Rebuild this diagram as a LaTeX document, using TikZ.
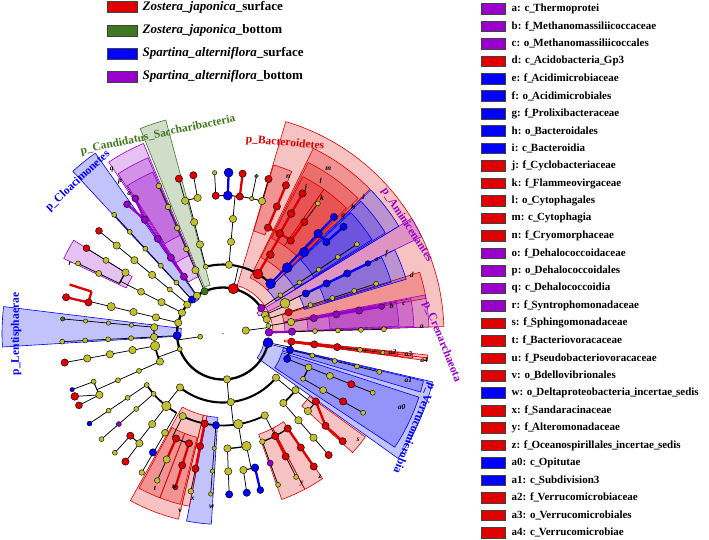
\documentclass[tikz,border=0pt]{standalone}
\usepackage{fontspec}
\setmainfont{Liberation Serif}
\definecolor{cR}{RGB}{222,0,0}
\definecolor{cG}{RGB}{62,120,30}
\definecolor{cB}{RGB}{0,0,245}
\definecolor{cP}{RGB}{150,0,200}
\definecolor{cY}{RGB}{192,192,48}
\definecolor{lR}{RGB}{225,0,0}
\definecolor{lG}{RGB}{64,120,32}
\definecolor{lB}{RGB}{0,0,255}
\definecolor{lP}{RGB}{153,0,204}
\newcommand\nus{\makebox[0.36em][l]{\_}}
\newcommand\cSp[3]{\draw[lnk] (#1:#2pt) -- (#1:#3pt);}
\newcommand\cSc[4]{\draw[clnk,#4] (#1:#2pt) -- (#1:#3pt);}
\newcommand\cAr[4]{\draw[line width=#4pt] (#1:#3pt) arc[start angle=#1,end angle=#2,radius=#3pt];}
\newcommand\cAc[4]{\draw[clnk,#4] (#1:#3pt) arc[start angle=#1,end angle=#2,radius=#3pt];}
\newcommand\cNd[4]{\filldraw[ndb,fill=#4] (#1:#2pt) circle[radius=1.08*#3pt];}
\newcommand\cWg[5]{\filldraw[fill=#5,fill opacity=0.24,draw=#5,line width=0.6pt] (#1:#3pt) arc[start angle=#1,end angle=#2,radius=#3pt] -- (#2:#4pt) arc[start angle=#2,end angle=#1,radius=#4pt] -- cycle;}
\begin{document}
\begin{tikzpicture}[x=1pt,y=1pt,
  lnk/.style={line width=0.75pt,black},
  clnk/.style={line width=2.3pt},
  ndb/.style={draw=black,line width=0.4pt},
  lt/.style={font=\fontsize{7.5}{7.5}\selectfont\bfseries\itshape,inner sep=0pt},
  plab/.style={font=\fontsize{11.5}{11.5}\selectfont\bfseries,inner sep=0pt},
  lgtxt/.style={anchor=west,inner sep=0pt,font=\fontsize{13}{13}\selectfont\bfseries},
  rgtxt/.style={anchor=west,inner sep=0pt,font=\fontsize{11}{11}\selectfont\bfseries},
  ]
\useasboundingbox (0,-539) rectangle (709,0);
\fill[white] (0,-539) rectangle (709,0);
\begin{scope}[shift={(223,-333.5)}]
% ---------- phylum wedges
\cWg{1.8}{73.5}{50}{221}{cR}
\cWg{26}{31.4}{40}{221}{cP}
\cWg{105}{112}{50}{221}{cG}
\cWg{125.3}{132.8}{42}{221}{cB}
\cWg{173}{183.5}{42}{221}{cB}
\cWg{-35.5}{-13}{42}{215}{cB}
% ---------- class wedges
\cWg{44.5}{64}{62}{206}{cR}
\cWg{31.4}{44.2}{62}{206}{cB}
\cWg{9.8}{17.3}{62}{206}{cR}
\cWg{112.7}{123.7}{62}{206}{cP}
\cWg{-33.5}{-18}{62}{206}{cB}
\cWg{-16.5}{-13.3}{62}{206}{cB}
\cWg{-7.6}{-6}{62}{206}{cR}
\cWg{1.8}{10.8}{62}{206}{cP}
% ---------- order wedges
\cWg{45}{63.5}{85}{191}{cR}
\cWg{31.8}{43.8}{85}{191}{cB}
\cWg{16.5}{26}{85}{191}{cB}
\cWg{2.1}{10.5}{85}{191}{cP}
\cWg{113.1}{123.3}{85}{191}{cP}
\cWg{241}{256.5}{84}{191}{cR}
\cWg{259}{266.5}{84}{191}{cB}
\cWg{-7.4}{-6.2}{85}{191}{cR}
% ---------- family wedges
\cWg{67}{73.3}{107}{176}{cR}
\cWg{55}{63}{107}{176}{cR}
\cWg{45.5}{55}{107}{176}{cR}
\cWg{32.2}{43.4}{107}{176}{cB}
\cWg{17}{25.6}{107}{176}{cB}
\cWg{2.4}{10.2}{107}{176}{cP}
\cWg{113.5}{122.9}{107}{176}{cP}
\cWg{148}{154.8}{107}{176}{cP}
\cWg{-42.6}{-36}{107}{176}{cR}
\cWg{241.5}{249}{107}{176}{cR}
\cWg{249}{256}{107}{176}{cR}
\cWg{256.5}{259}{84}{176}{cR}
\cWg{-70.5}{-62.3}{107}{176}{cR}
\cWg{-62.3}{-55.5}{107}{176}{cR}
\cWg{-7.2}{-6.4}{107}{176}{cR}
% ---------- backbone
\fill[gray] (0,0) circle[radius=0.8pt];
\cSp{7.5}{23}{46}
\cSp{188}{23}{46}
\cAr{33.7}{347}{46}{2.3}
\cAr{1.5}{24}{46}{0.8}
% Bacteroidetes
\cSp{77}{46}{69}
\cAr{46.3}{104.5}{69}{2.1}
\cSp{104.5}{69}{138}
\cAr{100.6}{105.9}{138}{0.9}
\cSp{105.9}{138}{161}
\cSp{100.6}{138}{161}
\cSp{85}{69}{138}
\cAr{73.6}{93}{138}{0.9}
\cSp{93}{138}{161}
\cSc{88}{138}{161}{cB}
\cSc{83}{138}{161}{cR}
\cSp{78}{138}{161}
\cSp{73.6}{138}{161}
\cSc{59.6}{69}{115}{cR}
\cAc{53.9}{67}{115}{cR}
\cSc{67}{115}{161}{cR}
\cSc{60.4}{115}{161}{cR}
\cSc{53.9}{115}{138}{cR}
\cSp{53.9}{138}{161}
\cSc{46.3}{69}{138}{cB}
\cAc{41.5}{46.4}{138}{cB}
\cSc{46.4}{138}{161}{cB}
\cSc{41.5}{138}{161}{cB}
% right phyla
\cSp{33.7}{46}{161}
\cSp{24}{46}{69}
\cAr{24}{26}{69}{1}
\cSp{26}{69}{92}
\cSc{25.8}{92}{161}{cB}
\cSp{18}{46}{161}
\cSp{9.6}{46}{92}
\cSc{9.6}{92}{161}{cP}
\cSc{1.5}{46}{69}{cP}
\cSp{1.5}{69}{161}
% Verrucomicrobia
\cSp{-11.5}{46}{69}
\cAr{-21.6}{-6.8}{69}{1.6}
\cSp{-13.8}{69}{161}
\cSp{-21.6}{69}{161}
\cAr{-29.5}{-21.6}{92}{1.3}
\cSp{-29.5}{92}{161}
\cSc{-6.8}{69}{115}{cR}
\cSp{-6.8}{115}{161}
\draw[cR,line width=0.7pt] (-6.8:161pt) -- (-6.8:206pt);
% Proteobacteria
\cSp{-85}{46}{69}
\cAr{231.4}{320.2}{69}{2.1}
\cSp{231.4}{69}{92}
\cAr{214}{239.7}{92}{1.8}
\cSp{214}{92}{161}
\cSp{221}{92}{161}
\cSp{232}{92}{138}
\cAr{227.8}{232.7}{138}{0.9}
\cSp{227.8}{138}{161}
\cSp{232.7}{138}{161}
\cSp{239.7}{92}{161}
\cSp{276.5}{69}{92}
\cAr{244}{297}{92}{1.8}
\cSp{244}{92}{115}
\cAr{244}{252.8}{115}{1.2}
\cSc{245.9}{115}{138}{cR}
\cSp{245.9}{138}{161}
\cSc{252.8}{115}{161}{cR}
\cSc{258.5}{92}{138}{cR}
\cSp{258.5}{138}{161}
\cSp{265.6}{92}{161}
\cSp{279.6}{92}{115}
\cAr{272.2}{281.8}{115}{1.3}
\cSp{272.2}{115}{161}
\cSp{281.8}{115}{138}
\cAr{278.5}{283.4}{138}{1.1}
\cSp{278.5}{138}{161}
\cSc{283.4}{138}{161}{cB}
\cSp{297}{92}{115}
\cAr{290}{304.3}{115}{1.3}
\cSp{290}{115}{161}
\cSc{297}{115}{138}{cR}
\cSp{297}{138}{161}
\cSc{304.3}{115}{161}{cR}
\cSp{320.2}{69}{92}
\cAr{311}{322}{92}{1.8}
\cSp{311}{92}{161}
\cSp{322}{92}{115}
\cAr{317.6}{323.8}{115}{1.1}
\draw[clnk,cR] (323.8:115pt) -- (318:138pt) -- (318:161pt);
% left phyla
\cSp{200}{46}{69}
\cAr{190.4}{204}{69}{1.8}
\cSp{190.4}{69}{161}
\cSp{204}{69}{138}
\cAr{200.4}{206.4}{138}{1}
\cSp{200.4}{138}{161}
\draw[lnk] (203:161pt) -- (206.4:138pt) -- (206.5:161pt);
\cSp{182.7}{46}{69}
\cAr{174.8}{182.9}{69}{1.3}
\cSp{174.8}{69}{161}
\cSp{182.9}{69}{161}
\cSp{166.5}{46}{138}
\cSc{167}{138}{161}{cR}
\cAc{162.3}{167}{138}{cR}
\cSc{162.3}{138}{161}{cR}
\cSp{153}{46}{115}
\cAr{148}{154.2}{115}{1.3}
\cSp{148}{115}{161}
\cSp{154.2}{115}{161}
\cSp{140.4}{46}{161}
\cSp{132.5}{46}{161}
\cSp{124.5}{46}{69}
\cSc{124.5}{69}{138}{cP}
\draw[clnk,cP] (126.6:161pt) -- (124.5:138pt) -- (123:161pt);
\cSp{113.5}{46}{161}
% ---------- nodes
\cNd{7.5}{23}{3.4}{cY}
\cNd{188}{23}{2.3}{cY}
\cNd{33.7}{46}{3.4}{cP}
\cNd{24}{46}{3.4}{cY}
\cNd{18}{46}{3.4}{cY}
\cNd{9.6}{46}{2.3}{cY}
\cNd{1.5}{46}{3.6}{cP}
\cNd{-11.5}{46}{4.6}{cB}
\cNd{-85}{46}{3.4}{cY}
\cNd{200}{46}{2.3}{cY}
\cNd{182.7}{46}{3.8}{cB}
\cNd{166.5}{46}{3.4}{cY}
\cNd{153}{46}{3.4}{cY}
\cNd{141}{46}{3.4}{cY}
\cNd{132.5}{46}{3.4}{cB}
\cNd{124.5}{46}{3.4}{cY}
\cNd{113.6}{46}{3.4}{cG}
\cNd{77}{46}{4.8}{cR}
% right
\foreach \r in {69,92,115,138,161}{\cNd{33.7}{\r}{2.3}{cY}}
\cNd{26}{69}{4.6}{cY}
\foreach \r in {92,115,138}{\cNd{25.8}{\r}{3.4}{cB}}
\cNd{25.8}{161}{2.6}{cB}
\cNd{18}{69}{3.4}{cR}
\foreach \r in {92,115,138,161}{\cNd{18}{\r}{2.3}{cY}}
\cNd{9.6}{69}{3.4}{cY}
\foreach \r in {92,115,138}{\cNd{9.6}{\r}{3.4}{cP}}
\cNd{9.6}{161}{2.6}{cP}
\cNd{1.5}{69}{3.4}{cP}
\foreach \r in {92,115,138,161}{\cNd{1.5}{\r}{2.3}{cY}}
% Verrucomicrobia
\foreach \r in {69,92,115}{\cNd{-6.8}{\r}{3.4}{cR}}
\cNd{-6.8}{138}{2.3}{cY}
\cNd{-6.8}{161}{2}{cY}
\cNd{-13.8}{69}{3.4}{cB}
\foreach \r in {92,115,138,161}{\cNd{-13.8}{\r}{2.3}{cY}}
\cNd{-21.6}{69}{3.4}{cB}
\cNd{-21.6}{92}{3.2}{cY}
\cNd{-21.6}{115}{3.2}{cY}
\cNd{-21.6}{138}{3.4}{cR}
\cNd{-21.6}{161}{2.3}{cY}
\cNd{-29.5}{92}{2.3}{cY}
\cNd{-29.5}{115}{3.2}{cY}
\cNd{-29.5}{138}{3.4}{cR}
\cNd{-29.5}{161}{2.3}{cY}
% Proteobacteria
\cNd{231.4}{69}{3.4}{cY}
\cNd{276.5}{69}{3.4}{cY}
\cNd{320.2}{69}{3.4}{cY}
\cNd{214}{92}{2.3}{cY}
\cNd{221}{92}{2.3}{cY}
\cNd{232}{92}{4.4}{cY}
\cNd{214}{115}{2.3}{cY}
\cNd{214}{138}{2.3}{cY}
\cNd{214}{161}{2.3}{cB}
\cNd{221}{115}{2.3}{cY}
\cNd{221}{138}{2.3}{cP}
\cNd{221}{161}{2.3}{cY}
\cNd{232}{115}{3.4}{cY}
\cNd{227.8}{138}{3.4}{cR}
\cNd{232.7}{138}{3.4}{cY}
\cNd{227.8}{161}{2.3}{cY}
\cNd{232.7}{161}{3.4}{cR}
\cNd{239.7}{115}{3.2}{cY}
\cNd{239.5}{138}{3.4}{cB}
\cNd{239.7}{161}{2.6}{cY}
\cNd{244}{92}{3.4}{cY}
\cNd{258.5}{92}{3.4}{cR}
\cNd{265.6}{92}{3.4}{cB}
\cNd{279.6}{92}{4.4}{cY}
\cNd{297}{92}{3.4}{cY}
\cNd{245.9}{115}{3.4}{cR}
\cNd{252.8}{115}{3.4}{cR}
\cNd{245.9}{138}{3.4}{cY}
\cNd{245.9}{161}{2.6}{cY}
\cNd{252.8}{138}{3.4}{cR}
\cNd{252.8}{161}{2.3}{cR}
\cNd{258.5}{115}{3.4}{cR}
\cNd{258.5}{138}{3.4}{cR}
\cNd{258.5}{161}{2.6}{cY}
\foreach \r in {115,138,161}{\cNd{265.6}{\r}{2}{cY}}
\cNd{272.2}{115}{3.4}{cY}
\cNd{281.8}{115}{4.4}{cY}
\cNd{272.2}{138}{3.4}{cY}
\cNd{272.2}{161}{3.4}{cB}
\cNd{278.5}{138}{3.4}{cY}
\cNd{278.5}{161}{3.4}{cB}
\cNd{283.4}{138}{3.6}{cB}
\cNd{283.4}{161}{3.2}{cB}
\cNd{290}{115}{2.6}{cY}
\cNd{290}{138}{2.8}{cP}
\cNd{290}{161}{2.3}{cY}
\cNd{297}{115}{3.4}{cR}
\cNd{297}{138}{3.4}{cR}
\cNd{297}{161}{2.3}{cY}
\cNd{304.3}{115}{3.4}{cR}
\cNd{304.3}{138}{3.4}{cR}
\cNd{304.3}{161}{3.4}{cR}
\cNd{311}{92}{3.4}{cY}
\cNd{322}{92}{3.4}{cY}
\cNd{311}{115}{3.4}{cY}
\cNd{311}{138}{3.4}{cY}
\cNd{311}{161}{3.4}{cR}
\cNd{317.6}{115}{3.4}{cY}
\cNd{323.8}{115}{3.4}{cR}
\cNd{318}{138}{3.4}{cR}
\cNd{318}{161}{3.4}{cR}
% left phyla
\cNd{190.4}{69}{4.4}{cY}
\foreach \r in {92,115,138}{\cNd{190.4}{\r}{3.4}{cY}}
\cNd{190.4}{161}{3.4}{cR}
\cNd{204}{69}{3.4}{cY}
\cNd{204}{92}{2.3}{cY}
\cNd{204}{115}{2.3}{cY}
\cNd{200.4}{138}{2.3}{cY}
\cNd{200.4}{161}{2}{cB}
\cNd{206.4}{138}{3.4}{cY}
\cNd{203}{161}{3.6}{cR}
\cNd{206.5}{161}{3.2}{cR}
\cNd{174.8}{69}{3.4}{cY}
\foreach \r in {92,115,138}{\cNd{174.8}{\r}{2}{cY}}
\cNd{174.8}{161}{2}{cG}
\cNd{182.9}{69}{3.4}{cY}
\foreach \r in {92,115,138,161}{\cNd{182.9}{\r}{2.3}{cY}}
\cNd{166.5}{69}{3.4}{cY}
\cNd{166.5}{92}{3.4}{cY}
\cNd{166.5}{115}{3.8}{cY}
\cNd{167}{138}{3.4}{cR}
\cNd{167}{161}{3.4}{cR}
\cNd{153}{69}{3.4}{cY}
\cNd{153}{92}{3.2}{cY}
\cNd{148}{115}{3.4}{cY}
\cNd{148}{138}{2.8}{cY}
\cNd{148}{161}{3.2}{cR}
\cNd{154.2}{138}{2.8}{cY}
\cNd{154.2}{161}{2.3}{cY}
\cNd{140.4}{69}{2.3}{cY}
\foreach \r in {92,115,138}{\cNd{140.4}{\r}{3.4}{cY}}
\cNd{140.4}{161}{3.2}{cR}
\foreach \r in {69,92,115,138,161}{\cNd{132.5}{\r}{2.3}{cY}}
\foreach \r in {69,92,115}{\cNd{124.5}{\r}{3.4}{cP}}
\cNd{124.5}{138}{3.4}{cP}
\cNd{126.6}{161}{3.2}{cP}
\cNd{123}{161}{3.2}{cP}
\cNd{113.5}{69}{3.4}{cY}
\foreach \r in {92,115,138,161}{\cNd{113.5}{\r}{2.6}{cY}}
% Bacteroidetes
\cNd{104.5}{69}{2.3}{cY}
\cNd{104.5}{92}{3.4}{cY}
\cNd{104.5}{115}{3.4}{cY}
\cNd{105.9}{138}{3.4}{cY}
\cNd{105.9}{161}{3.4}{cR}
\cNd{100.6}{138}{3.4}{cY}
\cNd{100.6}{161}{3.4}{cR}
\cNd{85}{69}{3.4}{cY}
\cNd{85}{92}{3.4}{cY}
\cNd{85}{115}{3.4}{cY}
\cNd{93}{138}{3.4}{cR}
\cNd{93}{161}{2}{cY}
\cNd{88}{138}{4.2}{cB}
\cNd{88}{161}{4.2}{cB}
\cNd{83}{138}{3.4}{cR}
\cNd{83}{161}{3.4}{cR}
\cNd{78}{138}{2}{cY}
\cNd{78}{161}{1.8}{cG}
\cNd{73.6}{138}{3.4}{cY}
\cNd{73.6}{161}{3.4}{cR}
\cNd{59.6}{69}{4.6}{cR}
\cNd{59}{92}{3.6}{cR}
\cNd{67}{115}{3.4}{cR}
\cNd{60.4}{115}{3.6}{cR}
\cNd{53.9}{115}{3.4}{cR}
\cNd{67}{138}{3.4}{cR}
\cNd{67}{161}{3.4}{cR}
\cNd{60.4}{138}{3.6}{cR}
\cNd{60.4}{161}{3.4}{cR}
\cNd{53.9}{138}{3.4}{cR}
\cNd{53.9}{161}{2.3}{cY}
\cNd{46.3}{69}{4.6}{cB}
\cNd{45.7}{92}{4.6}{cB}
\cNd{45.1}{115}{4.4}{cB}
\cNd{46.4}{138}{4.0}{cB}
\cNd{46.4}{161}{3.4}{cB}
\cNd{41.5}{138}{3.4}{cB}
\cNd{41.5}{161}{3.4}{cB}
\end{scope}
% ---------- clade letters
\foreach \x/\y/\t [count=\i] in {111.7/170/q,120/181.7/p,129.3/193.3/o,70/263.3/r,288.3/176.7/n,
  328.3/168.3/m,320.7/181/l,306/188/j,322/198/k,363.3/196.7/i,353.3/206.7/h,343.3/216.7/g,
  386.7/253.3/f,376.7/260/e,411.7/275/d,404/303.3/c,391.7/306/b,421.7/326.7/a,
  392.7/351.7/a2,408.3/354.3/a3,424/360/a4,408.3/380/a1,401.7/406.7/a0,
  301.7/483.3/y,320/476.7/z,211.7/506.7/w,192.7/498.3/x,180/510.7/v,155/488.3/t,174.3/487.3/u,358/440/s}
  {\node[lt] (let\i) at (\x,-\y) {\t};}
% ---------- phylum labels
\node[plab,text=lG,rotate=12] (pSac) at (158,-135) {p\_Candidatus\_Saccharibacteria};
\node[plab,text=lB,rotate=43] (pClo) at (78,-181) {p\_Cloacimonetes};
\node[plab,text=lR,rotate=-5] (pBac) at (285,-143) {p\_Bacteroidetes};
\node[plab,text=lP,rotate=-57] (pAmi) at (407,-225) {p\_Aminicenantes};
\node[plab,text=lP,rotate=-68] (pCre) at (442,-342) {p\_Crenarchaeota};
\node[plab,text=lB,rotate=-112] (pVer) at (414,-428) {p\_Verrucomicrobia};
\node[plab,text=lB,rotate=90] (pLen) at (16,-334) {p\_Lentisphaerae};
% ---------- left legend
\foreach \y/\c/\t [count=\i] in {7.2/lR/{\textit{Zostera\_japonica}\_surface},
  30.7/lG/{\textit{Zostera\_japonica}\_bottom},
  53.3/lB/{\textit{Spartina\_alterniflora}\_surface},
  76.5/lP/{\textit{Spartina\_alterniflora}\_bottom}}
  {\draw[black!75,line width=0.6pt,fill=\c] (107,-\y+5.5) rectangle (137,-\y-5.5);
   \node[lgtxt] (lg\i) at (142.5,-\y) {\t};}
% ---------- right legend
\foreach \t/\c [count=\i from 0] in {{a: c\nus Thermoprotei}/lP,{b: f\nus Methanomassiliicoccaceae}/lP,
  {c: o\nus Methanomassiliicoccales}/lP,{d: c\nus Acidobacteria\nus Gp3}/lR,{e: f\nus Acidimicrobiaceae}/lB,
  {f: o\nus Acidimicrobiales}/lB,{g: f\nus Prolixibacteraceae}/lB,{h: o\nus Bacteroidales}/lB,
  {i: c\nus Bacteroidia}/lB,{j: f\nus Cyclobacteriaceae}/lR,{k: f\nus Flammeovirgaceae}/lR,
  {l: o\nus Cytophagales}/lR,{m: c\nus Cytophagia}/lR,{n: f\nus Cryomorphaceae}/lR,
  {o: f\nus Dehalococcoidaceae}/lP,{p: o\nus Dehalococcoidales}/lP,{q: c\nus Dehalococcoidia}/lP,
  {r: f\nus Syntrophomonadaceae}/lP,{s: f\nus Sphingomonadaceae}/lR,{t: f\nus Bacteriovoracaceae}/lR,
  {u: f\nus Pseudobacteriovoracaceae}/lR,{v: o\nus Bdellovibrionales}/lR,
  {w: o\nus Deltaproteobacteria\nus incertae\nus sedis}/lB,{x: f\nus Sandaracinaceae}/lR,
  {y: f\nus Alteromonadaceae}/lR,{z: f\nus Oceanospirillales\nus incertae\nus sedis}/lR,
  {a0: c\nus Opitutae}/lB,{a1: c\nus Subdivision3}/lB,{a2: f\nus Verrucomicrobiaceae}/lR,
  {a3: o\nus Verrucomicrobiales}/lR,{a4: c\nus Verrucomicrobiae}/lR}
  {\pgfmathsetmacro\yy{-(8.7+17.47*\i)}
   \draw[black!75,line width=0.6pt,fill=\c] (481,\yy+5.3) rectangle (505,\yy-5.3);
   \node[rgtxt] (rg\i) at (511.5,\yy) {\t};}
\end{tikzpicture}
\end{document}
